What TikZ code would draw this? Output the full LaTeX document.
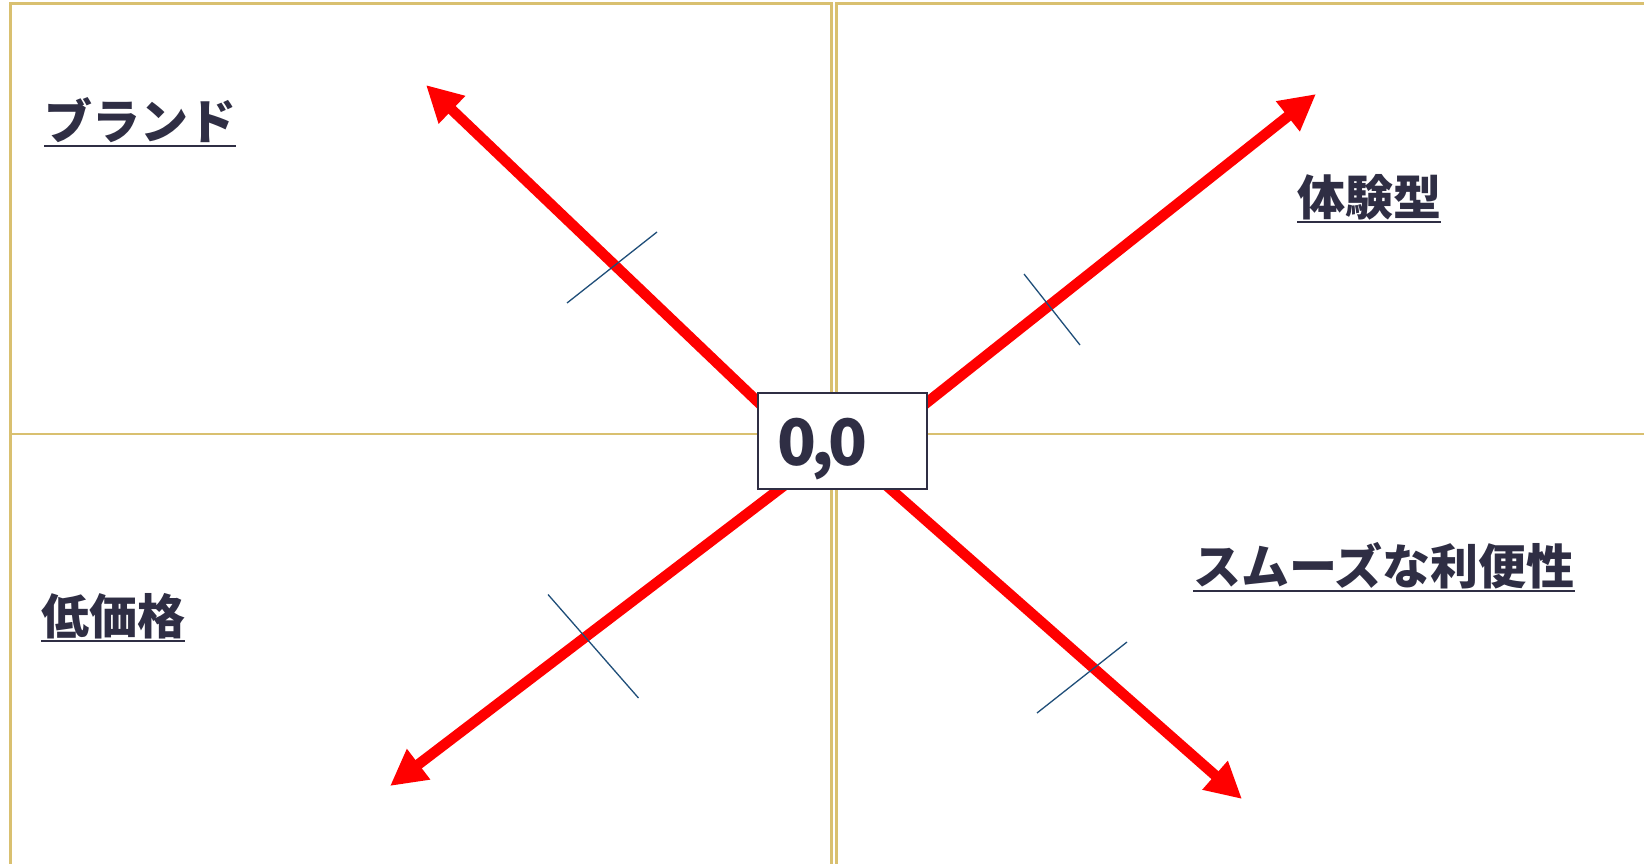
\documentclass[tikz,border=0pt]{standalone}
\usepackage{fontspec}
\newfontfamily\jp{Noto Sans CJK JP}
\usetikzlibrary{arrows.meta}
\definecolor{gold}{RGB}{217,192,112}
\definecolor{navy}{RGB}{47,46,68}
\definecolor{tickblue}{RGB}{31,78,121}
\tikzset{
  frame/.style={draw=gold, line width=2.8pt},
  redarrow/.style={draw=red, line width=10.5pt, -{Triangle[length=36pt,width=36pt]}},
  tickline/.style={draw=tickblue, line width=1.3pt},
  lbl/.style={inner sep=0pt, text=navy, font=\jp\bfseries\fontsize{48pt}{48pt}\selectfont, anchor=base west},
  uline/.style={draw=navy, line width=2pt},
  originbox/.style={draw=navy, fill=white, line width=1.6pt, minimum width=169pt, minimum height=96pt, inner sep=0pt, anchor=north west},
  zero/.style={inner sep=0pt, text=navy, font=\jp\bfseries\fontsize{64pt}{64pt}\selectfont, anchor=base west}
}
\begin{document}
\begin{tikzpicture}[x=1pt,y=-1pt]
\useasboundingbox (0,0) rectangle (1644,863);
\clip (0,0) rectangle (1644,863);
\fill[white] (0,0) rectangle (1644,863);
% quadrant frames
\draw[frame] (10.5,900) -- (10.5,3.2) -- (831.5,3.2) -- (831.5,900);
\draw[frame] (1700,3.2) -- (836.5,3.2) -- (836.5,900);
\draw[frame] (10.5,434) -- (1700,434);
% arrow coordinates
\coordinate (s1) at (770,413.5);
\coordinate (t1) at (426,85);
\coordinate (s2) at (915,412);
\coordinate (t2) at (1316,94);
\coordinate (s3) at (794,478);
\coordinate (t3) at (390,786);
\coordinate (s4) at (878,478);
\coordinate (t4) at (1242,799);
\draw[redarrow] (s1) -- (t1);
\draw[redarrow] (s2) -- (t2);
\draw[redarrow] (s3) -- (t3);
\draw[redarrow] (s4) -- (t4);
% tick marks
\coordinate (a1) at (567,303); \coordinate (b1) at (657,232);
\coordinate (a2) at (1024,274); \coordinate (b2) at (1080,345);
\coordinate (a3) at (548,594.5); \coordinate (b3) at (638.5,698);
\coordinate (a4) at (1037,713); \coordinate (b4) at (1127,642);
\draw[tickline] (a1) -- (b1);
\draw[tickline] (a2) -- (b2);
\draw[tickline] (a3) -- (b3);
\draw[tickline] (a4) -- (b4);
% origin box
\node[originbox] (origin) at (757,392) {};
\node[zero] (zerotext) at (777,465) {0\kern-5pt,\kern-5pt0};
% labels
\node[lbl] (brand) at (44,139) {ブランド};
\node[lbl] (exp) at (1297,215) {体験型};
\node[lbl] (low) at (41,634) {低価格};
\node[lbl] (smooth) at (1193,584.5) {スムーズな利便性};
\foreach \n in {brand,exp,low,smooth}
  \draw[uline] ([yshift=-6.5pt]\n.base west) -- ([yshift=-6.5pt]\n.base east);
\end{tikzpicture}
\end{document}
